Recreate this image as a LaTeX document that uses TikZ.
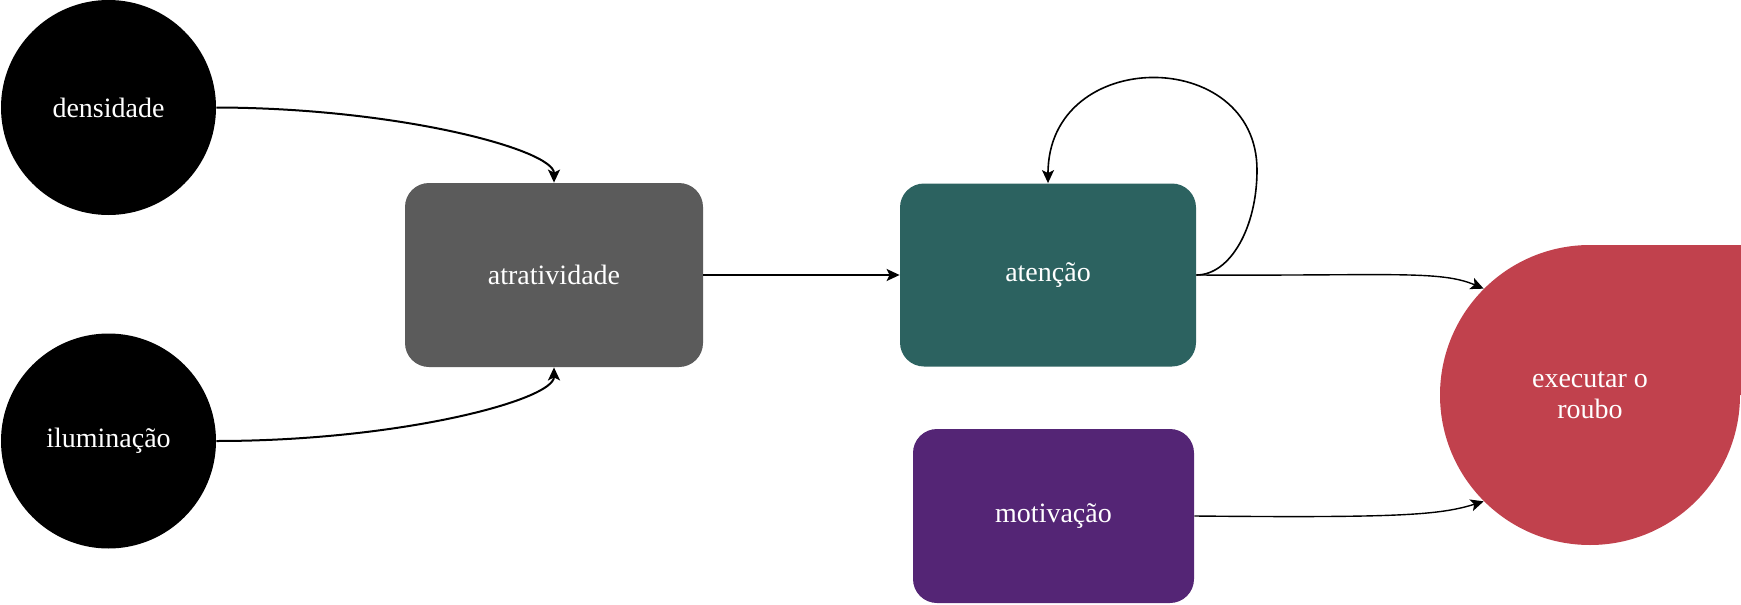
\documentclass[tikz,border=0pt]{standalone}
\usepackage{fontspec}
\setmainfont{Liberation Serif}
\usepackage{tikz}
\usetikzlibrary{shapes,positioning,arrows.meta}
\definecolor{cinza}{HTML}{5B5B5B}
\definecolor{verde}{HTML}{2C6260}
\definecolor{roxo}{HTML}{542575}
\definecolor{vermelho}{HTML}{C1414D}
\tikzset{ball/.style={circle,fill=black,text=white,minimum size=107.5pt,inner sep=0pt},
         card/.style={rectangle,rounded corners=12pt,text=white,inner sep=0pt}}

\begin{document}
\begin{tikzpicture}[>={Stealth[length=6.5pt,width=6pt,inset=1.5pt]},x=0.5pt,y=-0.5pt,every node/.style={font=\fontsize{14}{15.5}\selectfont}]
    \useasboundingbox (0,0) rectangle (1741,605);

    \node[ball] (dens) at (108.5,107.5) {densidade};
    \node[ball] (ilum) at (108.5,441) {iluminação};
    \node[card,fill=cinza,minimum width=149pt,minimum height=92pt] (atra) at (554,275) {atratividade};
    \node[card,fill=verde,minimum width=148pt,minimum height=91.5pt] (aten) at (1048,275) {atenção};
    \node[card,fill=roxo,minimum width=140.5pt,minimum height=87pt] (moti) at (1053.5,516) {motivação};
    \fill [vermelho] (1590,245) rectangle (1741,395);
    \node[circle,fill=vermelho,text=white,minimum size=150pt,inner sep=0pt,align=center] (roubo) at (1590,395) {executar o\\roubo};

    \draw [->,line width=1pt] (dens.east) .. controls (400,108) and (554,150) .. (atra.north);
    \draw [->,line width=1pt] (ilum.east) .. controls (400,441) and (554,400) .. (atra.south);
    \draw [->,line width=1pt] (atra.east) to [] (aten.west);
    \draw [->,line width=0.8pt] (aten.east) .. controls (1230,275) and (1257,228) .. (1257,170) .. controls (1257,46) and (1048,46) .. (aten.north);
    \draw [->,line width=0.7pt] (aten.east) .. controls (1390,276) and (1440,270) .. (roubo.135);
    \draw [->,line width=0.7pt] (moti.east) .. controls (1400,518) and (1440,515) .. (roubo.225);
\end{tikzpicture}
\end{document}
